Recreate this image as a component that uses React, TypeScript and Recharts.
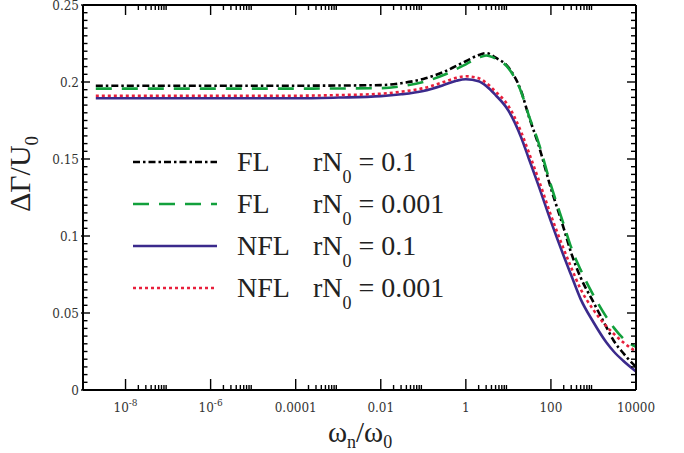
import React from 'react';
import { LineChart, Line, XAxis, YAxis, Legend } from 'recharts';

const W = 684;
const H = 453;
const PLOT = { left: 83, top: 5, right: 636, bottom: 390 };
const SERIF = '"Liberation Serif", "Times New Roman", serif';
const TICK_FONT = '"DejaVu Serif", serif';

// ω_n / ω_0 sample points
const freq = [2e-9, 1e-8, 1e-7, 1e-6, 1e-5, 1e-4, 1e-3, 0.01, 0.03, 0.1, 0.3, 0.6, 1, 2, 3, 5, 10, 20, 30, 50, 100, 200, 300, 500, 1000, 2000, 3000, 5000, 10000];

// ΔΓ/U0
const flHigh = [0.1976, 0.1976, 0.1976, 0.1976, 0.1976, 0.1976, 0.1977, 0.198, 0.1992, 0.202, 0.2065, 0.2105, 0.2135, 0.2175, 0.2187, 0.2158, 0.2095, 0.194, 0.178, 0.16, 0.131, 0.105, 0.089, 0.073, 0.057, 0.041, 0.032, 0.024, 0.015];
const flLow = [0.1957, 0.1957, 0.1957, 0.1957, 0.1957, 0.1957, 0.1958, 0.196, 0.1972, 0.2, 0.2045, 0.2085, 0.2115, 0.2158, 0.2172, 0.2152, 0.209, 0.1935, 0.1785, 0.1615, 0.133, 0.1075, 0.0925, 0.078, 0.0615, 0.0475, 0.0405, 0.0335, 0.028];
const nflHigh = [0.1894, 0.1894, 0.1894, 0.1894, 0.1894, 0.1894, 0.1899, 0.1908, 0.192, 0.1942, 0.198, 0.2008, 0.2018, 0.2005, 0.1975, 0.1915, 0.1815, 0.164, 0.1505, 0.1335, 0.1095, 0.087, 0.0745, 0.059, 0.044, 0.031, 0.025, 0.019, 0.012];
const nflLow = [0.1911, 0.1911, 0.1911, 0.1911, 0.1911, 0.1911, 0.1915, 0.1924, 0.1937, 0.196, 0.2, 0.2027, 0.2037, 0.2025, 0.1995, 0.1938, 0.1845, 0.1675, 0.1545, 0.1375, 0.1135, 0.0915, 0.0795, 0.0655, 0.052, 0.0415, 0.0365, 0.031, 0.025];

const xMajors = [1e-8, 1e-6, 1e-4, 1e-2, 1, 100, 10000];
const xLabels = ['10^-8', '10^-6', '0.0001', '0.01', '1', '100', '10000'];
const xMinorSteps = [2, 3, 4, 5, 6, 7, 8, 9];

const yMajors = [0, 0.05, 0.1, 0.15, 0.2, 0.25];
const yLabels = ['0', '0.05', '0.1', '0.15', '0.2', '0.25'];

const series = [
  { key: 'flHigh', kind: 'FL', r: '0.1', color: '#000000', dash: '7 3 2.5 3', width: 2.6 },
  { key: 'flLow', kind: 'FL', r: '0.001', color: '#12a03c', dash: '16 10', width: 2.6 },
  { key: 'nflHigh', kind: 'NFL', r: '0.1', color: '#3b2a8c', dash: undefined, width: 2.6 },
  { key: 'nflLow', kind: 'NFL', r: '0.001', color: '#e8203c', dash: '3 3', width: 2.6 },
];

const data = freq.map((w, i) => ({
  w,
  flHigh: flHigh[i],
  flLow: flLow[i],
  nflHigh: nflHigh[i],
  nflLow: nflLow[i],
}));

// majors plus 2..9 minors in the decade after each major (not after the last)
const xTicks = [
  ...xMajors,
  ...xMajors.slice(0, -1).flatMap((m) => xMinorSteps.map((s) => m * s)),
].sort((a, b) => a - b);

const yTicks = Array.from({ length: 51 }, (_, i) => Math.round(i * 5) / 1000);

const xMajorIndex = (v: number) => xMajors.findIndex((m) => Math.abs(Math.log10(v) - Math.log10(m)) < 1e-6);
const yMajorIndex = (v: number) => yMajors.findIndex((m) => Math.abs(m - v) < 1e-7);

const BottomTick = (props: any) => {
  const { x, payload } = props;
  const idx = xMajorIndex(payload.value);
  const major = idx >= 0;
  const [base, sup] = major ? xLabels[idx].split('^') : ['', ''];
  return (
    <g>
      <line x1={x} x2={x} y1={PLOT.bottom} y2={PLOT.bottom - (major ? 11 : 5)} stroke="#000" strokeWidth={1.4} />
      {major && (
        <text x={x} y={PLOT.bottom + 22} textAnchor="middle" fontSize={12} fontFamily={TICK_FONT} fill="#333">
          {base}
          {sup && <tspan dy={-6} fontSize={9}>{sup}</tspan>}
        </text>
      )}
    </g>
  );
};

const TopTick = (props: any) => {
  const { x, payload } = props;
  const major = xMajorIndex(payload.value) >= 0;
  return <line x1={x} x2={x} y1={PLOT.top} y2={PLOT.top + (major ? 10 : 5)} stroke="#000" strokeWidth={1.4} />;
};

const LeftTick = (props: any) => {
  const { y, payload } = props;
  const idx = yMajorIndex(payload.value);
  const major = idx >= 0;
  return (
    <g>
      <line x1={PLOT.left - (major ? 2 : 0)} x2={PLOT.left + (major ? 7 : 4.5)} y1={y} y2={y} stroke="#000" strokeWidth={1.4} />
      {major && (
        <text x={PLOT.left - 4} y={y + 4.5} textAnchor="end" fontSize={12} fontFamily={TICK_FONT} fill="#333">
          {yLabels[idx]}
        </text>
      )}
    </g>
  );
};

const RightTick = (props: any) => {
  const { y, payload } = props;
  const major = yMajorIndex(payload.value) >= 0;
  return <line x1={PLOT.right} x2={PLOT.right - (major ? 9 : 5)} y1={y} y2={y} stroke="#000" strokeWidth={1.4} />;
};

const YTitle = () => (
  <text x={30} y={174} transform="rotate(-90 30 174)" textAnchor="middle" fontSize={30} fontFamily={SERIF} fill="#222">
    ΔΓ/U<tspan dy={8} fontSize={19}>0</tspan>
  </text>
);

const XTitle = () => (
  <text x={360} y={442} textAnchor="middle" fontSize={29} fontFamily={SERIF} fill="#222">
    ω<tspan dy={6} fontSize={18}>n</tspan>
    <tspan dy={-6}>/ω</tspan>
    <tspan dy={6} fontSize={18}>0</tspan>
  </text>
);

const LegendBox = () => (
  <svg width={350} height={195} style={{ display: 'block' }}>
    {series.map((s, i) => {
      const cy = 22 + i * 42;
      return (
        <g key={s.key}>
          <line x1={13} x2={97} y1={cy} y2={cy} stroke={s.color} strokeWidth={s.width} strokeDasharray={s.dash} />
          <text x={117} y={cy + 8.5} fontSize={28} fontFamily={SERIF} fill="#222">
            {s.kind}
          </text>
          <text x={193} y={cy + 8.5} fontSize={28} fontFamily={SERIF} fill="#222" style={{ whiteSpace: 'pre' }}>
            rN<tspan dy={12} fontSize={18}>0</tspan>
            <tspan dy={-12}>{` = ${s.r}`}</tspan>
          </text>
        </g>
      );
    })}
  </svg>
);

export default function App() {
  return (
    <div style={{ position: 'absolute', left: 0, top: 0, width: W, height: H, background: '#fff' }}>
      <LineChart width={W} height={H} data={data} margin={{ top: 0, right: 38, bottom: 13, left: 23 }}>
        <XAxis
          dataKey="w"
          type="number"
          scale="log"
          domain={[1e-9, 1e4]}
          allowDataOverflow
          ticks={xTicks}
          interval={0}
          tick={<BottomTick />}
          tickLine={false}
          axisLine={{ stroke: '#000', strokeWidth: 2 }}
          height={50}
          label={<XTitle />}
        />
        <XAxis
          xAxisId="top"
          orientation="top"
          dataKey="w"
          type="number"
          scale="log"
          domain={[1e-9, 1e4]}
          allowDataOverflow
          ticks={xTicks}
          interval={0}
          tick={<TopTick />}
          tickLine={false}
          axisLine={{ stroke: '#000', strokeWidth: 2 }}
          height={5}
        />
        <YAxis
          type="number"
          domain={[0, 0.25]}
          allowDataOverflow
          ticks={yTicks}
          interval={0}
          tick={<LeftTick />}
          tickLine={false}
          axisLine={{ stroke: '#000', strokeWidth: 2 }}
          width={60}
          label={<YTitle />}
        />
        <YAxis
          yAxisId="right"
          orientation="right"
          type="number"
          domain={[0, 0.25]}
          allowDataOverflow
          ticks={yTicks}
          interval={0}
          tick={<RightTick />}
          tickLine={false}
          axisLine={{ stroke: '#000', strokeWidth: 2 }}
          width={10}
        />
        {series.map((s) => (
          <Line
            key={s.key}
            dataKey={s.key}
            type="monotone"
            stroke={s.color}
            strokeWidth={s.width}
            strokeDasharray={s.dash}
            dot={false}
            activeDot={false}
            isAnimationActive={false}
          />
        ))}
        <Legend
          layout="vertical"
          align="center"
          verticalAlign="middle"
          content={<LegendBox />}
          wrapperStyle={{ left: 120, top: 140, width: 350, height: 195 }}
        />
      </LineChart>
    </div>
  );
}
